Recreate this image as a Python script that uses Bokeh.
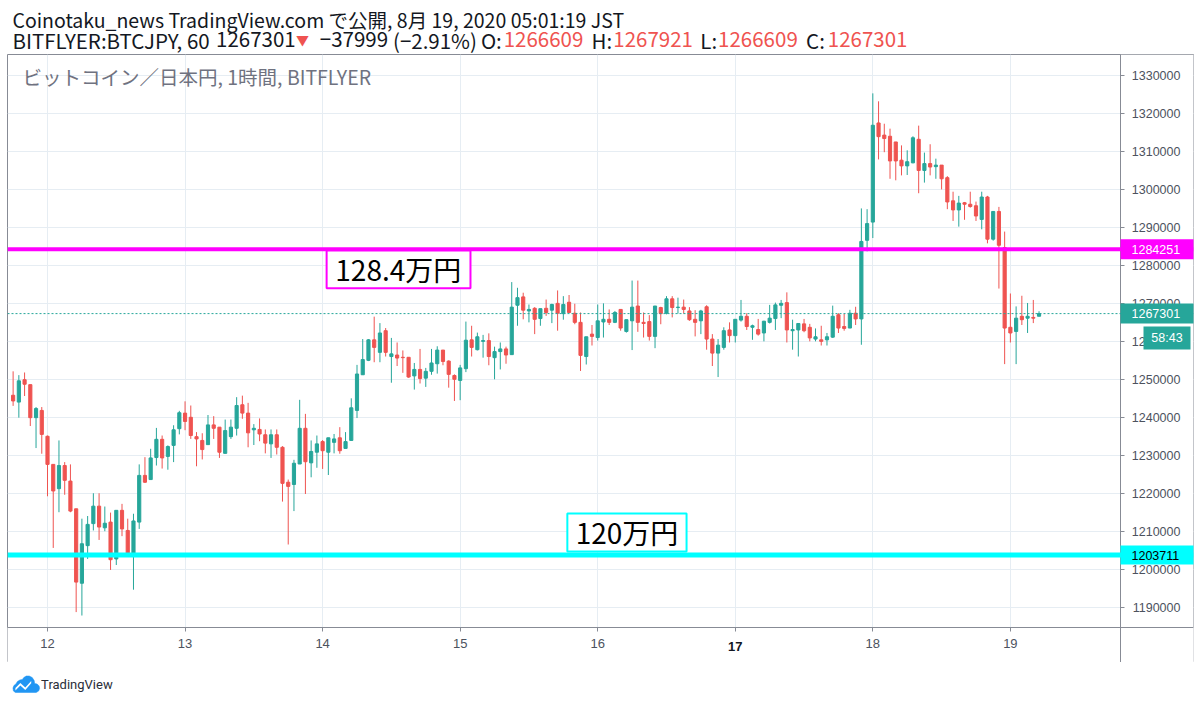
from bokeh.plotting import figure
from bokeh.layouts import column
from bokeh.models import (Range1d, FixedTicker, NumeralTickFormatter,
                          Span, BoxAnnotation, Label, ColumnDataSource)
from bokeh.embed import file_html
from bokeh.resources import INLINE
import pandas as pd

# ---------------- data (BITFLYER:BTCJPY, 1h candles) ----------------
start_time = "2020-08-11 18:00"
opens = [1245800, 1244000, 1249900, 1248600, 1239900, 1241800, 1235000, 1227600, 1221200, 1227300,
         1223200, 1215900, 1196300, 1206200, 1212000, 1216600, 1210900, 1212400, 1202700, 1215500,
         1210200, 1204000, 1212400, 1224700, 1223600, 1229400, 1234200, 1229700, 1232600, 1237000,
         1241100, 1240000, 1234900, 1233900, 1232800, 1238000, 1237400, 1230500, 1234900, 1237100,
         1243300, 1241100, 1236700, 1236800, 1235400, 1233000, 1235400, 1232100, 1222900, 1222300,
         1227700, 1237100, 1228000, 1230800, 1233600, 1230800, 1233400, 1234600, 1231800, 1233900,
         1241800, 1251200, 1255000, 1260400, 1257100, 1262800, 1256000, 1256400, 1255800, 1255800,
         1250900, 1252600, 1250300, 1252100, 1254100, 1257700, 1254800, 1251000, 1249700, 1252800,
         1260400, 1257800, 1260000, 1260200, 1255700, 1257300, 1258000, 1256500, 1269500, 1271700,
         1268000, 1268700, 1266000, 1268700, 1268200, 1270000, 1267300, 1270300, 1267400, 1265000,
         1256000, 1261900, 1261000, 1265100, 1265800, 1265000, 1268400, 1262600, 1265400, 1269300,
         1265000, 1265200, 1261300, 1268900, 1267400, 1271200, 1268900, 1269000, 1268000, 1265800,
         1265400, 1269100, 1260600, 1256900, 1258400, 1263000, 1261500, 1265600, 1266600, 1263700,
         1263100, 1262200, 1265000, 1266000, 1269500, 1270200, 1262800, 1263000, 1264600, 1263700,
         1260600, 1260400, 1260400, 1261100, 1267000, 1263900, 1263500, 1267400, 1265900, 1286600,
         1291400, 1317500, 1314300, 1314000, 1312500, 1307700, 1306200, 1307000, 1313200, 1305000,
         1306800, 1306000, 1306400, 1303100, 1297000, 1294600, 1296500, 1296100, 1295700, 1292100,
         1298000, 1286900, 1294200, 1284700, 1263700, 1262600, 1266600, 1266100, 1266300, 1266609]
highs = [1252100, 1251100, 1251800, 1248600, 1242700, 1242700, 1235200, 1227600, 1233900, 1228200,
         1227600, 1215900, 1213300, 1214000, 1220000, 1220000, 1216500, 1214900, 1215500, 1217200,
         1213300, 1214600, 1227600, 1229500, 1231700, 1237200, 1235200, 1232600, 1237900, 1241700,
         1244200, 1243100, 1236100, 1235800, 1240600, 1240300, 1237400, 1239400, 1239400, 1245300,
         1245700, 1243800, 1238200, 1239700, 1236800, 1236800, 1236800, 1232400, 1223600, 1228800,
         1244600, 1240900, 1233900, 1235200, 1234000, 1234600, 1235600, 1237400, 1236100, 1245000,
         1253800, 1260600, 1260600, 1266500, 1264800, 1263500, 1260900, 1259700, 1257600, 1255800,
         1254300, 1258000, 1253000, 1258000, 1258700, 1257700, 1255000, 1251300, 1253800, 1265200,
         1264100, 1262300, 1261700, 1262100, 1258600, 1259700, 1258600, 1275600, 1274100, 1272800,
         1269700, 1269000, 1268600, 1271000, 1269900, 1273400, 1271900, 1272200, 1269900, 1267600,
         1261200, 1264300, 1269700, 1270000, 1268400, 1268000, 1268400, 1265700, 1276000, 1276000,
         1267600, 1266900, 1269300, 1269100, 1271900, 1271900, 1271500, 1271000, 1269000, 1268200,
         1268300, 1269500, 1261900, 1260600, 1263700, 1265000, 1265800, 1270900, 1267400, 1264400,
         1265900, 1265400, 1269600, 1270200, 1270900, 1272900, 1265700, 1264800, 1265900, 1264600,
         1263400, 1264100, 1262200, 1269400, 1267400, 1267200, 1268300, 1269100, 1295000, 1294800,
         1325300, 1323200, 1317300, 1316000, 1312500, 1311600, 1310300, 1314000, 1316800, 1309700,
         1311900, 1308100, 1306400, 1303500, 1299400, 1298300, 1296700, 1299400, 1296800, 1299400,
         1298300, 1294300, 1295400, 1288900, 1272600, 1269200, 1272000, 1270100, 1270900, 1267921]
lows = [1243000, 1239900, 1245600, 1237700, 1231900, 1230400, 1219200, 1205600, 1215000, 1219600,
        1215000, 1188700, 1187800, 1202700, 1210200, 1207700, 1210000, 1199800, 1201100, 1208700,
        1204000, 1194600, 1210600, 1222700, 1223600, 1227300, 1226500, 1226200, 1228200, 1235500,
        1236600, 1234300, 1227100, 1228900, 1232800, 1234300, 1229300, 1230500, 1234300, 1235200,
        1239600, 1232100, 1232700, 1233700, 1230500, 1229300, 1230200, 1217800, 1206500, 1215300,
        1227700, 1219800, 1224200, 1226700, 1226400, 1224800, 1230500, 1230400, 1231800, 1233900,
        1239800, 1251200, 1254800, 1254500, 1254500, 1256000, 1249100, 1253500, 1251700, 1250400,
        1247300, 1248900, 1248000, 1251200, 1251500, 1253700, 1247800, 1244300, 1244500, 1251900,
        1256000, 1257600, 1255700, 1253700, 1250000, 1252600, 1254100, 1256500, 1264100, 1265800,
        1265000, 1261900, 1264100, 1266700, 1264800, 1262800, 1265700, 1267600, 1264500, 1252200,
        1253900, 1258900, 1260200, 1261000, 1264300, 1264800, 1262800, 1262300, 1257700, 1262500,
        1261000, 1260200, 1258200, 1264500, 1267100, 1266300, 1267300, 1267300, 1265400, 1261300,
        1261900, 1257800, 1253500, 1250600, 1257800, 1259700, 1259700, 1265200, 1263000, 1260400,
        1261500, 1260000, 1264700, 1263000, 1266100, 1259700, 1257800, 1256000, 1262400, 1260000,
        1260000, 1258900, 1258900, 1260900, 1262200, 1262800, 1263500, 1264300, 1259100, 1283700,
        1287200, 1307900, 1309800, 1302800, 1302400, 1303700, 1303800, 1306900, 1299000, 1301800,
        1303700, 1302800, 1300000, 1294800, 1291700, 1290200, 1292000, 1295200, 1291700, 1289500,
        1285800, 1286500, 1273900, 1254000, 1259700, 1254000, 1264300, 1262200, 1264800, 1266609]
closes = [1244300, 1249600, 1248700, 1239900, 1242300, 1235500, 1227600, 1220600, 1227300, 1223400,
          1215300, 1196600, 1206700, 1211800, 1216600, 1211100, 1212100, 1202500, 1215500, 1210600,
          1204000, 1212700, 1224700, 1222900, 1229300, 1234200, 1229300, 1232300, 1236700, 1241200,
          1238900, 1235200, 1234300, 1231500, 1238000, 1237100, 1230800, 1236500, 1237400, 1243100,
          1241100, 1235900, 1237100, 1235600, 1233200, 1235400, 1232100, 1222600, 1221800, 1227900,
          1237100, 1228300, 1231000, 1233000, 1231200, 1234600, 1234300, 1231200, 1233600, 1242500,
          1251400, 1255200, 1260400, 1258400, 1262200, 1257100, 1256700, 1255600, 1255700, 1250600,
          1252600, 1250200, 1252100, 1254300, 1257700, 1254700, 1251300, 1250000, 1253000, 1260300,
          1258400, 1261200, 1260200, 1256000, 1257300, 1258000, 1256400, 1269000, 1271500, 1268200,
          1268400, 1265800, 1268600, 1267600, 1269700, 1267400, 1269700, 1267600, 1265000, 1256300,
          1261200, 1261300, 1265400, 1265800, 1265000, 1267600, 1263500, 1265700, 1269000, 1265000,
          1264700, 1261300, 1269300, 1267300, 1271200, 1268900, 1269000, 1268400, 1265700, 1265000,
          1268000, 1260600, 1256900, 1259000, 1262800, 1261500, 1265800, 1266600, 1263900, 1264100,
          1261900, 1265300, 1266100, 1269600, 1270000, 1263000, 1263100, 1264700, 1262800, 1260900,
          1261200, 1260000, 1261200, 1266600, 1263500, 1263400, 1267400, 1265900, 1286300, 1291000,
          1316900, 1313900, 1313400, 1307500, 1307500, 1306200, 1307300, 1313600, 1305000, 1306800,
          1305900, 1306400, 1302800, 1296700, 1294600, 1296400, 1296100, 1295500, 1293000, 1298000,
          1286900, 1294200, 1285300, 1263500, 1262200, 1266100, 1265700, 1266600, 1266100, 1267301]

day_labels = ["12", "13", "14", "15", "16", "17", "18", "19"]
bold_day = "17"
price_ticks = [1190000, 1200000, 1210000, 1220000, 1230000, 1240000, 1250000, 1260000,
               1270000, 1280000, 1290000, 1300000, 1310000, 1320000, 1330000]
resistance = 1284251
support = 1203711
last_price = 1267301
countdown = "58:43"
note_resistance = "128.4万円"
note_support = "120万円"

header1 = "Coinotaku_news TradingView.com で公開, 8月 19, 2020 05:01:19 JST"
header2 = ["BITFLYER:BTCJPY, 60", "1267301", "▼", "−37999", "(−2.91%)", "O:", "1266609", "H:",
           "1267921", "L:", "1266609", "C:", "1267301"]
header2_red = [False, False, True, False, False, False, True, False, True, False, True, False, True]
chart_title = "ビットコイン／日本円, 1時間, BITFLYER"
brand = "TradingView"

# ---------------- styles / layout ----------------
UP = "#26a69a"
DOWN = "#ef5350"
DARK = "#131722"
GRID = "#e6edf3"
FRAME = "#878b95"
AXIS_TXT = "#4c525e"
JP = "Noto Sans CJK JP"
NUM = "Liberation Sans"
W = 1200
header2_x = [5, 211, 292, 316, 390, 479, 502, 591, 613, 701, 719, 808, 830]
scale_x = 187.21          # hour where the price-scale pane starts
time_axis_y = 1184650     # price level where the time-scale pane starts

times = pd.date_range(start_time, periods=len(opens), freq="h")
origin = pd.Timestamp("2020-08-12 00:00")
hours = [(t - origin) / pd.Timedelta(hours=1) for t in times]
src = ColumnDataSource(dict(
    x=hours, open=opens, high=highs, low=lows, close=closes,
    top=[max(o, c) for o, c in zip(opens, closes)],
    bottom=[min(o, c) for o, c in zip(opens, closes)],
    color=[UP if c >= o else DOWN for o, c in zip(opens, closes)]))
day_ticks = [24 * i for i in range(len(day_labels))]

# ---------------- header ----------------
hdr = figure(width=W, height=54, output_backend="svg", toolbar_location=None,
             x_range=Range1d(0, W), y_range=Range1d(54, 0), x_axis_type=None, y_axis_type=None,
             min_border=0, outline_line_color=None, title=None)
hdr.add_layout(Label(x=5, y=19, text=header1, text_baseline="middle", text_font=JP,
                     text_font_size="19.5px", text_color=DARK))
for txt, red, xx in zip(header2, header2_red, header2_x):
    hdr.add_layout(Label(x=xx, y=39, text=txt, text_baseline="middle", text_font=JP,
                         text_font_size=("13px" if txt == "▼" else "20.5px"),
                         text_color=(DOWN if red else DARK)))

# ---------------- main chart (price pane + price scale + time scale) ----------------
p = figure(width=W, height=608, output_backend="svg", toolbar_location=None, title=None,
           x_range=Range1d(-6.98, 199.95), y_range=Range1d(1175430, 1335530),
           min_border_left=7, min_border_right=7, min_border_top=0, min_border_bottom=0,
           background_fill_color="white", border_fill_color="white")
p.outline_line_color = FRAME
p.outline_line_width = 1

p.yaxis.fixed_location = scale_x
p.yaxis.ticker = FixedTicker(ticks=price_ticks)
p.yaxis.formatter = NumeralTickFormatter(format="0")
p.yaxis.major_label_text_font = NUM
p.yaxis.major_label_text_font_size = "12.5px"
p.yaxis.major_label_text_color = AXIS_TXT
p.yaxis.major_tick_out = 0
p.yaxis.major_tick_in = 4
p.yaxis.minor_tick_line_color = None
p.yaxis.major_tick_line_color = FRAME
p.yaxis.axis_line_color = FRAME
p.yaxis.major_label_standoff = -60
p.yaxis.axis_label = " "
p.yaxis.axis_label_text_font_size = "10px"
p.yaxis.axis_label_standoff = 5

p.xaxis.fixed_location = time_axis_y
p.xaxis.ticker = FixedTicker(ticks=day_ticks)
p.xaxis.major_label_overrides = {t: ("" if lab == bold_day else lab) for t, lab in zip(day_ticks, day_labels)}
p.xaxis.major_label_text_font = NUM
p.xaxis.major_label_text_font_size = "13px"
p.xaxis.major_label_text_color = AXIS_TXT
p.xaxis.major_tick_out = 4
p.xaxis.major_tick_in = 0
p.xaxis.minor_tick_line_color = None
p.xaxis.major_tick_line_color = FRAME
p.xaxis.axis_line_color = FRAME
p.xaxis.major_label_standoff = 8
p.xaxis.axis_label = " "
p.xaxis.axis_label_text_font_size = "10px"
p.xaxis.axis_label_standoff = -40

p.xgrid.ticker = FixedTicker(ticks=day_ticks)
p.ygrid.ticker = FixedTicker(ticks=price_ticks)
p.xgrid.grid_line_color = GRID
p.ygrid.grid_line_color = GRID

# white scale panes (hide grid lines there)
p.add_layout(BoxAnnotation(left=scale_x, right=210, fill_color="white", fill_alpha=1,
                           line_color=None, level="underlay"))
p.add_layout(BoxAnnotation(left=-20, right=210, top=time_axis_y, bottom=1150000, fill_color="white",
                           fill_alpha=1, line_color=None, level="underlay"))

for t, lab in zip(day_ticks, day_labels):
    if lab == bold_day:
        p.add_layout(Label(x=t, y=16, x_units="data", y_units="screen", text=lab, text_align="center",
                           text_baseline="middle", text_font=NUM, text_font_size="13px",
                           text_font_style="bold", text_color=DARK))

# candles
p.segment(x0="x", y0="low", x1="x", y1="high", line_color="color", line_width=1, source=src)
p.vbar(x="x", width=0.55, top="top", bottom="bottom", fill_color="color", line_color="color",
       line_width=1, source=src)

# horizontal lines (stop at the price scale)
p.add_layout(Span(location=last_price, dimension="width", line_color=UP, line_width=1, line_dash="2 2"))
p.add_layout(Span(location=resistance, dimension="width", line_color="#ff00ff", line_width=4))
p.add_layout(Span(location=support, dimension="width", line_color="#00ffff", line_width=5))

# text notes on the chart
p.add_layout(BoxAnnotation(left=48.7, right=73.8, top=1283950, bottom=1273950,
                           fill_color="white", fill_alpha=1, line_color="#ff00ff", line_width=2, line_alpha=1))
p.add_layout(Label(x=61.2, y=1278950, text=note_resistance, text_align="center", text_baseline="middle",
                   text_font=JP, text_font_size="28px", text_color="black"))
p.add_layout(BoxAnnotation(left=90.7, right=111.5, top=1214680, bottom=1204670,
                           fill_color="white", fill_alpha=1, line_color="#00ffff", line_width=2, line_alpha=1))
p.add_layout(Label(x=101.1, y=1209680, text=note_support, text_align="center", text_baseline="middle",
                   text_font=JP, text_font_size="28px", text_color="black"))

# price tags on the price scale
def price_tag(price, fill, txt_color, half=2630):
    p.add_layout(BoxAnnotation(left=scale_x, right=210, top=price + half, bottom=price - half,
                               fill_color=fill, fill_alpha=1, line_color=None))
    p.add_layout(Label(x=scale_x, y=price, x_offset=11, text=str(price), text_baseline="middle",
                       text_font=NUM, text_font_size="12.5px", text_color=txt_color))

price_tag(resistance, "#ff00ff", "white")
price_tag(last_price, UP, "white")
price_tag(support, "#00ffff", "black", half=2500)
p.add_layout(BoxAnnotation(left=1136, right=1183, top=336, bottom=313, left_units="screen", right_units="screen",
                           top_units="screen", bottom_units="screen", fill_color=UP, fill_alpha=1, line_color=None))
p.add_layout(Label(x=1159.5, y=324.5, x_units="screen", y_units="screen", text=countdown, text_align="center",
                   text_baseline="middle", text_font=NUM, text_font_size="12.5px", text_color="white"))

# chart title inside the pane
p.add_layout(Label(x=15, y=586, x_units="screen", y_units="screen", text=chart_title, text_baseline="middle",
                   text_font=JP, text_font_size="19.5px", text_color="#6f7280"))

# ---------------- footer ----------------
ftr = figure(width=W, height=44, output_backend="svg", toolbar_location=None,
             x_range=Range1d(0, W), y_range=Range1d(706, 662), x_axis_type=None, y_axis_type=None,
             min_border=0, outline_line_color=None, title=None)
cloud_x = [8, 29, 31.5, 32.5, 32, 30, 27.5, 27, 25, 22, 19, 16.5, 15, 12.5, 10, 8.5, 6.5, 5.5, 6]
cloud_y = [692, 692, 690.5, 688, 685.5, 683.5, 683, 680, 677, 675.5, 675.5, 677, 679, 679.5, 681, 683.5, 685, 687.5, 690.5]
ftr.patch(x=cloud_x, y=cloud_y, fill_color="#2196f3", line_color="#2196f3", line_width=0.5)
zig_x = [8, 13, 18, 24, 24, 18, 13, 8]
zig_y = [687.5, 682.5, 687, 680.5, 682.7, 689.5, 685, 690]
ftr.patch(x=zig_x, y=zig_y, fill_color="white", line_color=None)
ftr.add_layout(Label(x=34, y=684, text=brand, text_baseline="middle", text_font="Roboto",
                     text_font_size="13px", text_color="#2a2e39"))

layout = column(hdr, p, ftr, spacing=0)
open("out.html", "w").write(file_html(layout, INLINE))
